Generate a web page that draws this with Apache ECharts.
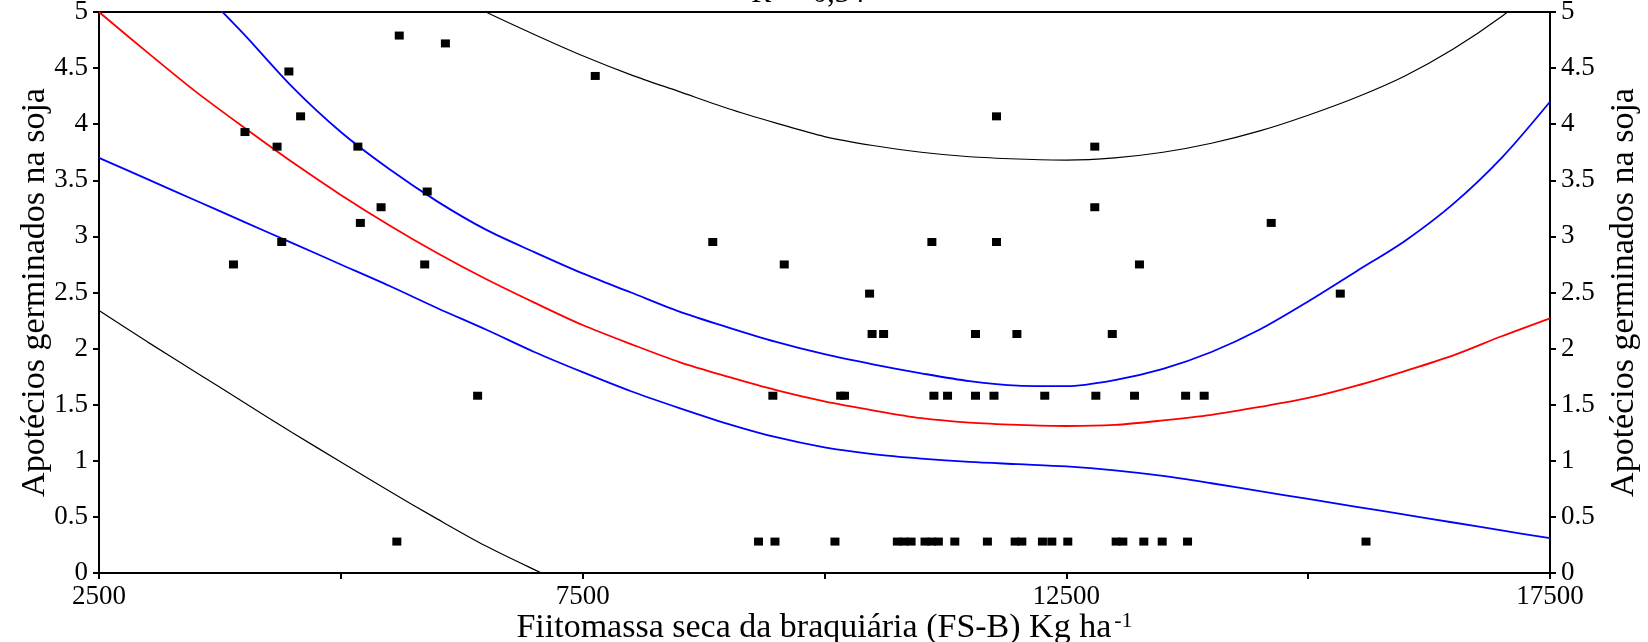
<!DOCTYPE html>
<html>
<head>
<meta charset="UTF-8">
<title></title>
<script src="https://cdn.jsdelivr.net/npm/echarts@6/dist/echarts.min.js"></script>
<style>
  html, body { margin: 0; padding: 0; background: #fff; }
  #main { width: 1648px; height: 642px; }
</style>
</head>
<body>
<div id="main"></div>
<script>
// pontos observados
var ptsX = [3890, 4009, 4341, 4389, 4463, 4584, 5176, 5202, 5416, 5579, 5604, 5867, 5893, 6081, 6414,
  7630, 8845, 9318, 9466, 9488, 9584, 10108, 10167, 10207, 10466, 10492, 10611, 10753, 10822, 10895,
  11039, 11109, 11110, 11131, 11177, 11272, 11347, 11561, 11561, 11684, 11752, 11778, 11778, 11971,
  11989, 12040, 12253, 12277, 12350, 12515, 12794, 12794, 12805, 12975, 13015, 13084, 13205, 13256,
  13301, 13491, 13733, 13753, 13925, 14618, 15332, 15598];
var ptsY = [2.75, 3.93, 3.80, 2.95, 4.47, 4.07, 3.80, 3.12, 3.26, 0.28, 4.79, 2.75, 3.40, 4.72, 1.58,
  4.43, 2.95, 0.28, 1.58, 0.28, 2.75, 0.28, 1.58, 1.58, 2.49, 2.13, 2.13, 0.28, 0.28, 0.28,
  0.28, 0.28, 2.95, 1.58, 0.28, 1.58, 0.28, 2.13, 1.58, 0.28, 1.58, 4.07, 2.95, 0.28,
  2.13, 0.28, 0.28, 1.58, 0.28, 0.28, 3.80, 3.26, 1.58, 2.13, 0.28, 0.28, 1.58, 2.75,
  0.28, 0.28, 1.58, 0.28, 1.58, 3.12, 2.49, 0.28];

// curvas (ajuste, intervalo de confianca e de predicao)
var curveX = [2500, 3000, 3500, 4000, 4500, 5000, 5500, 6000, 6500, 7000, 7500, 8000, 8500, 9000, 9500, 10000,
  10500, 11000, 11500, 12000, 12500, 13000, 13500, 14000, 14500, 15000, 15500, 16000, 16500, 17000, 17500];
var fitY = [5.00, 4.64, 4.29, 3.97, 3.66, 3.37, 3.10, 2.85, 2.62, 2.41, 2.21, 2.04, 1.88, 1.75, 1.63, 1.53,
  1.45, 1.38, 1.34, 1.32, 1.31, 1.32, 1.36, 1.41, 1.48, 1.56, 1.67, 1.80, 1.94, 2.11, 2.27];
var confUp = [6.30, 5.75, 5.25, 4.80, 4.33, 3.93, 3.60, 3.31, 3.06, 2.86, 2.67, 2.50, 2.33, 2.19, 2.06, 1.95,
  1.86, 1.78, 1.71, 1.67, 1.665, 1.72, 1.82, 1.97, 2.17, 2.42, 2.69, 2.96, 3.29, 3.70, 4.20];
var confLow = [3.70, 3.51, 3.32, 3.13, 2.94, 2.75, 2.56, 2.36, 2.17, 1.97, 1.79, 1.62, 1.47, 1.33, 1.21, 1.12,
  1.06, 1.02, 0.99, 0.97, 0.95, 0.915, 0.865, 0.80, 0.73, 0.66, 0.59, 0.52, 0.45, 0.38, 0.31];
var predUp = [7.50, 7.10, 6.73, 6.38, 6.05, 5.75, 5.47, 5.22, 5.00, 4.80, 4.61, 4.44, 4.29, 4.14, 4.01, 3.89,
  3.81, 3.75, 3.71, 3.69, 3.68, 3.70, 3.75, 3.83, 3.94, 4.08, 4.24, 4.43, 4.67, 4.96, 5.30];
var predLowX = [2500, 3000, 3500, 4000, 4500, 5000, 5500, 6000, 6500, 7000, 7500];
var predLow = [2.34, 2.06, 1.79, 1.52, 1.25, 0.99, 0.73, 0.48, 0.24, 0.03, -0.17];

var xTicks = [2500, 7500, 12500, 17500];
var rLabel = 'R² = 0,34';

function pares(xs, ys) {
  return xs.map(function (x, i) { return [x, ys[i]]; });
}

var fonte = '"Liberation Serif", "Times New Roman", serif';
var chart = echarts.init(document.getElementById('main'));

function linha(nome, ys, cor, larg, xs) {
  return {
    name: nome,
    type: 'line',
    data: pares(xs || curveX, ys),
    showSymbol: false,
    smooth: 0.3,
    clip: true,
    lineStyle: { color: cor, width: larg },
    itemStyle: { color: cor },
    z: 2
  };
}

var eixoY = function (pos) {
  return {
    type: 'value',
    position: pos,
    min: 0,
    max: 5,
    interval: 0.5,
    name: 'Apotécios germinados na soja',
    nameLocation: 'middle',
    nameRotate: 90,
    nameGap: pos === 'left' ? 47 : 57,
    nameMoveOverlap: false,
    nameTextStyle: { fontFamily: fonte, fontSize: 34, color: '#000' },
    axisLine: { show: true, lineStyle: { color: '#000', width: 2 } },
    axisTick: { show: true, length: 6, lineStyle: { color: '#000', width: 2 } },
    axisLabel: { margin: 11, fontFamily: fonte, fontSize: 27, color: '#000' },
    splitLine: { show: false }
  };
};

chart.setOption({
  animation: false,
  backgroundColor: '#fff',
  grid: { left: 99, right: 98, top: 12, bottom: 69, outerBoundsMode: 'none', containLabel: false },
  graphic: [{
    type: 'text',
    x: 808,
    y: 9,
    style: {
      text: rLabel,
      font: '30px ' + fonte,
      fill: '#000',
      align: 'center',
      verticalAlign: 'bottom'
    }
  }],
  xAxis: [{
    type: 'value',
    min: 2500,
    max: 17500,
    interval: 2500,
    name: 'Fiitomassa seca da braquiária (FS-B) Kg ha{sup|-1}',
    nameLocation: 'middle',
    nameGap: 37,
    nameMoveOverlap: false,
    nameTextStyle: {
      fontFamily: fonte, fontSize: 34, color: '#000',
      rich: { sup: { fontFamily: fonte, fontSize: 22, color: '#000', verticalAlign: 'top', padding: [0, 0, 14, 3] } }
    },
    axisLine: { show: true, lineStyle: { color: '#000', width: 2 } },
    axisTick: { show: true, length: 6, lineStyle: { color: '#000', width: 2 } },
    axisLabel: {
      margin: 10, fontFamily: fonte, fontSize: 27, color: '#000',
      formatter: function (v) { return xTicks.indexOf(v) >= 0 ? String(v) : ''; }
    },
    splitLine: { show: false }
  }, {
    type: 'value',
    position: 'top',
    min: 2500,
    max: 17500,
    axisLine: { show: true, onZero: false, lineStyle: { color: '#000', width: 2 } },
    axisTick: { show: false },
    axisLabel: { show: false },
    splitLine: { show: false }
  }],
  yAxis: [eixoY('left'), eixoY('right')],
  series: [
    linha('predUp', predUp, '#000', 1.2),
    linha('predLow', predLow, '#000', 1.2, predLowX),
    linha('confUp', confUp, '#0000ff', 1.8),
    linha('confLow', confLow, '#0000ff', 1.8),
    linha('fit', fitY, '#ff0000', 1.8),
    {
      name: 'obs',
      type: 'scatter',
      data: pares(ptsX, ptsY),
      symbol: 'rect',
      symbolSize: [9, 8],
      itemStyle: { color: '#000', opacity: 1 },
      z: 5
    }
  ]
});
</script>
</body>
</html>
